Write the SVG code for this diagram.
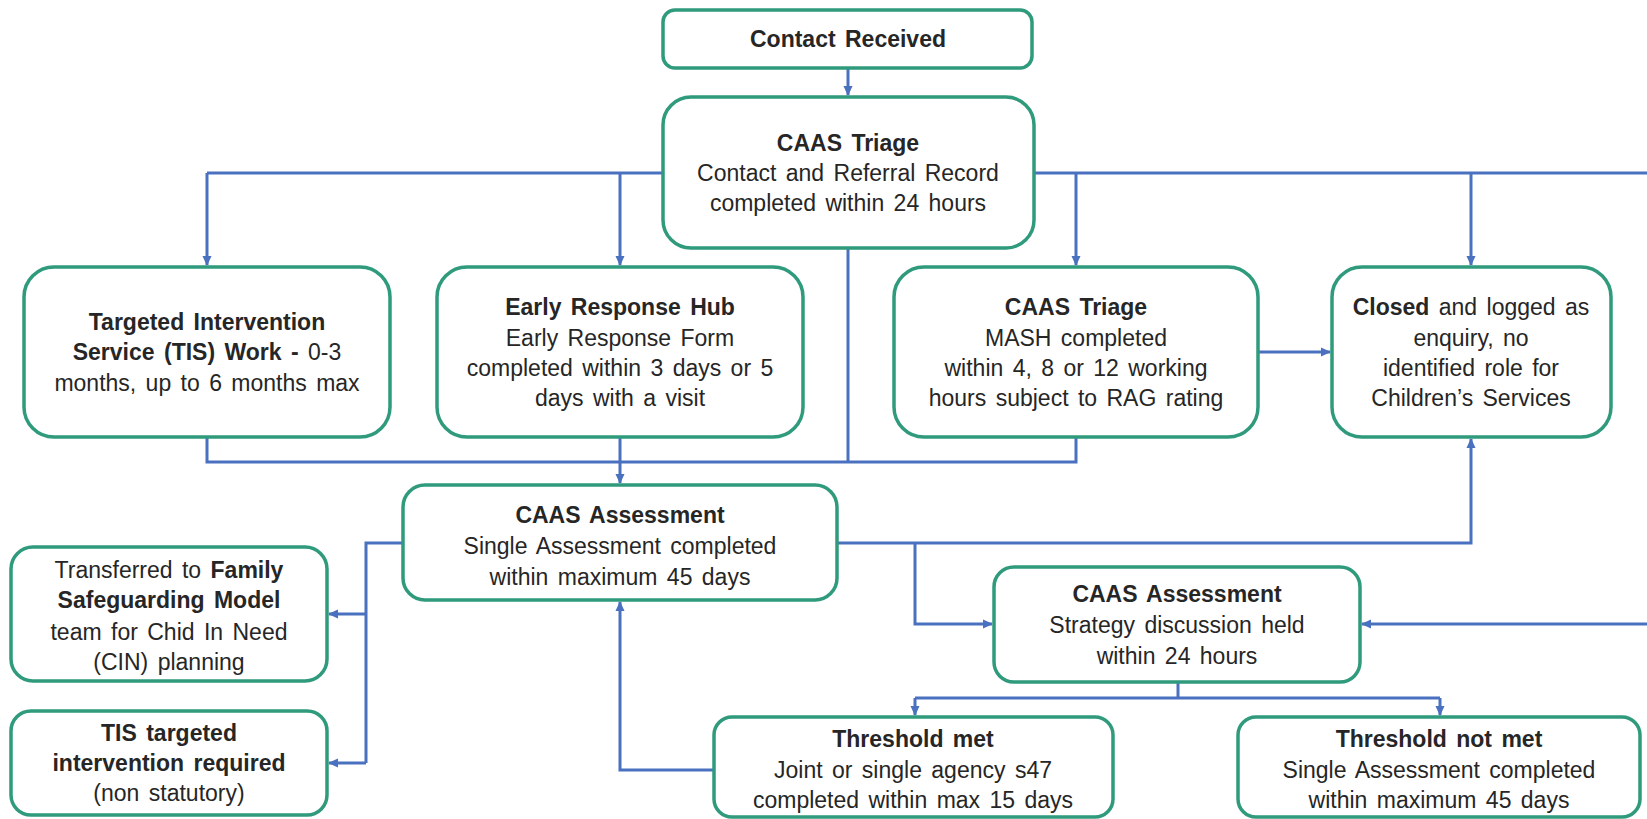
<svg xmlns="http://www.w3.org/2000/svg" width="1647" height="819" viewBox="0 0 1647 819">
<style>
.box{fill:#ffffff;stroke:#2f9a7c;stroke-width:3.5}
.c{fill:none;stroke:#4a70c0;stroke-width:3}
.a{marker-end:url(#ah)}
text{font-family:"Liberation Sans",Arial,sans-serif;font-size:23px;fill:#262626;text-anchor:middle;word-spacing:3px}
.b{font-weight:bold}
</style>
<defs>
<marker id="ah" viewBox="0 0 10 10" markerWidth="10" markerHeight="10" markerUnits="userSpaceOnUse" refX="9" refY="5" orient="auto">
<path d="M0,0.5 L10,5 L0,9.5 z" fill="#4a70c0"/>
</marker>
</defs>
<rect width="1647" height="819" fill="#ffffff"/>
<g id="connectors">
<path class="c a" d="M848,68 V95"/>
<path class="c" d="M207,173 H1647"/>
<path class="c a" d="M207,173 V265"/>
<path class="c a" d="M620,173 V265"/>
<path class="c a" d="M1076,173 V265"/>
<path class="c a" d="M1471,173 V265"/>
<path class="c a" d="M1258,352 H1330"/>
<path class="c" d="M207,437 V462 H1076 V437"/>
<path class="c" d="M620,437 V462"/>
<path class="c" d="M848,248 V462"/>
<path class="c a" d="M620,462 V483"/>
<path class="c" d="M403,543 H366 V763"/>
<path class="c a" d="M366,614 H329"/>
<path class="c a" d="M366,763 H329"/>
<path class="c a" d="M837,543 H1471 V439"/>
<path class="c a" d="M915,543 V624 H992"/>
<path class="c a" d="M1647,624 H1362"/>
<path class="c" d="M1178,682 V698"/>
<path class="c" d="M915,698 H1440"/>
<path class="c a" d="M915,698 V715"/>
<path class="c a" d="M1440,698 V715"/>
<path class="c a" d="M714,770 H620 V602"/>
</g>
<g id="contact">
<rect class="box" x="663" y="10" width="369" height="58" rx="12"/>
<text class="b" x="848" y="47">Contact Received</text>
</g>
<g id="triage">
<rect class="box" x="663" y="97" width="371" height="151" rx="28"/>
<text x="848" y="151" class="b">CAAS Triage</text>
<text x="848" y="181">Contact and Referral Record</text>
<text x="848" y="211">completed within 24 hours</text>
</g>
<g id="tis">
<rect class="box" x="24" y="267" width="366" height="170" rx="30"/>
<text x="207" y="330" class="b">Targeted Intervention</text>
<text x="207" y="360"><tspan class="b">Service (TIS) Work - </tspan> 0-3</text>
<text x="207" y="391">months, up to 6 months max</text>
</g>
<g id="erh">
<rect class="box" x="437" y="267" width="366" height="170" rx="30"/>
<text x="620" y="315" class="b">Early Response Hub</text>
<text x="620" y="346">Early Response Form</text>
<text x="620" y="376">completed within 3 days or 5</text>
<text x="620" y="406">days with a visit</text>
</g>
<g id="mash">
<rect class="box" x="894" y="267" width="364" height="170" rx="30"/>
<text x="1076" y="315" class="b">CAAS Triage</text>
<text x="1076" y="346">MASH completed</text>
<text x="1076" y="376">within 4, 8 or 12 working</text>
<text x="1076" y="406">hours subject to RAG rating</text>
</g>
<g id="closed">
<rect class="box" x="1332" y="267" width="279" height="170" rx="30"/>
<text x="1471" y="315"><tspan class="b">Closed</tspan> and logged as</text>
<text x="1471" y="346">enquiry, no</text>
<text x="1471" y="376">identified role for</text>
<text x="1471" y="406">Children’s Services</text>
</g>
<g id="assessment">
<rect class="box" x="403" y="485" width="434" height="115" rx="22"/>
<text x="620" y="523" class="b">CAAS Assessment</text>
<text x="620" y="554">Single Assessment completed</text>
<text x="620" y="585">within maximum 45 days</text>
</g>
<g id="fsm">
<rect class="box" x="11" y="547" width="316" height="134" rx="22"/>
<text x="169" y="578">Transferred to <tspan class="b">Family</tspan></text>
<text x="169" y="608" class="b">Safeguarding Model</text>
<text x="169" y="640">team for Chid In Need</text>
<text x="169" y="670">(CIN) planning</text>
</g>
<g id="tis-targeted">
<rect class="box" x="11" y="711" width="316" height="104" rx="20"/>
<text x="169" y="741" class="b">TIS targeted</text>
<text x="169" y="771" class="b">intervention required</text>
<text x="169" y="801">(non statutory)</text>
</g>
<g id="strategy">
<rect class="box" x="994" y="567" width="366" height="115" rx="20"/>
<text x="1177" y="602" class="b">CAAS Assessment</text>
<text x="1177" y="633">Strategy discussion  held</text>
<text x="1177" y="664">within 24 hours</text>
</g>
<g id="met">
<rect class="box" x="714" y="717" width="399" height="100" rx="18"/>
<text x="913" y="747" class="b">Threshold met</text>
<text x="913" y="778">Joint or single agency s47</text>
<text x="913" y="808">completed within max 15 days</text>
</g>
<g id="notmet">
<rect class="box" x="1238" y="717" width="402" height="100" rx="18"/>
<text x="1439" y="747" class="b">Threshold not met</text>
<text x="1439" y="778">Single Assessment completed</text>
<text x="1439" y="808">within maximum 45 days</text>
</g>
</svg>
